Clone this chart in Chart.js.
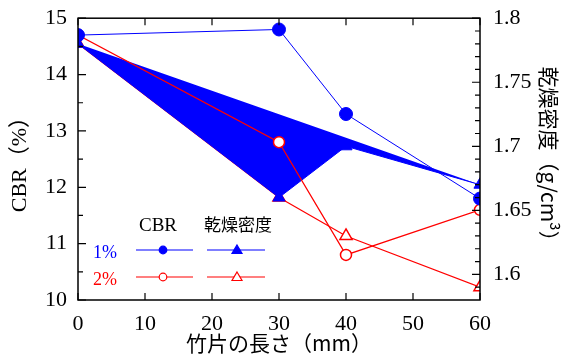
<!DOCTYPE html>
<html>
<head>
<meta charset="utf-8">
<script src="https://cdn.jsdelivr.net/npm/chart.js@4"></script>
<style>
  body { margin: 0; background: #fff; }
  canvas { display: block; }
</style>
</head>
<body>
<canvas id="cbrChart" width="566" height="358"></canvas>
<script>
// bamboo chip length (mm)
const lengths = [0, 30, 40, 60];
// CBR (%)
const cbr1 = [14.7, 14.8, 13.3, 11.8];
const cbr2 = [14.7, 12.8, 10.8, 11.6];
// dry density (g/cm3)
const density1 = [1.78, 1.66, 1.70, 1.67];
const density2 = [1.78, 1.66, 1.63, 1.59];

const xTicks = [0, 10, 20, 30, 40, 50, 60];
const cbrTicks = [10, 11, 12, 13, 14, 15];
const densityTicks = [1.6, 1.65, 1.7, 1.75, 1.8];

const serif = "'Liberation Serif', 'Noto Sans CJK JP', serif";
const cjk = "'Noto Sans CJK JP', sans-serif";

function pts(ys) {
    return lengths.map((x, i) => ({ x: x, y: ys[i] }));
}

function fixTicks(values) {
    return function(scale) {
        scale.ticks = values.map(v => ({ value: v }));
    };
}

// tick marks pointing into the plot + frame
const innerTicks = {
    id: 'innerTicks',
    afterDraw(chart) {
        const ctx = chart.ctx;
        const a = chart.chartArea;
        const sx = chart.scales.x, sl = chart.scales.y, sr = chart.scales.y2;
        ctx.save();
        ctx.strokeStyle = '#000';
        ctx.lineWidth = 1.2;
        ctx.beginPath();
        xTicks.forEach(v => {
            const p = sx.getPixelForValue(v);
            ctx.moveTo(p, a.bottom); ctx.lineTo(p, a.bottom - 7);
            ctx.moveTo(p, a.top); ctx.lineTo(p, a.top + 7);
        });
        for (let v = 10; v <= 15.001; v += 0.5) {
            const p = sl.getPixelForValue(v);
            const len = Math.abs(v - Math.round(v)) < 0.01 ? 8 : 5;
            ctx.moveTo(a.left, p); ctx.lineTo(a.left + len, p);
        }
        for (let i = 159; i <= 180; i++) {
            const v = i / 100;
            const p = sr.getPixelForValue(v);
            const len = i % 5 === 0 ? 8 : 5;
            ctx.moveTo(a.right, p); ctx.lineTo(a.right - len, p);
        }
        ctx.stroke();
        ctx.lineWidth = 1.5;
        ctx.strokeRect(a.left, a.top, a.right - a.left, a.bottom - a.top);
        ctx.restore();
    }
};

// legend drawn inside the plot
const innerLegend = {
    id: 'innerLegend',
    afterDraw(chart) {
        const ctx = chart.ctx;
        ctx.save();
        ctx.textAlign = 'center';
        ctx.textBaseline = 'middle';
        ctx.fillStyle = '#000';
        ctx.font = '19px ' + serif;
        ctx.fillText('CBR', 158, 226);
        ctx.font = '17px ' + cjk;
        ctx.fillText('乾燥密度', 238, 225);

        const rows = [
            { label: '1%', color: 'blue', y: 250, fill: 'blue' },
            { label: '2%', color: 'red', y: 277, fill: '#fff' }
        ];
        rows.forEach(r => {
            ctx.font = '18px ' + serif;
            ctx.fillStyle = r.color;
            ctx.fillText(r.label, 105, r.y + 3);
            ctx.strokeStyle = r.color;
            ctx.lineWidth = 1.2;
            ctx.beginPath();
            ctx.moveTo(136, r.y); ctx.lineTo(193, r.y);
            ctx.moveTo(207, r.y); ctx.lineTo(265, r.y);
            ctx.stroke();
            ctx.fillStyle = r.fill;
            ctx.beginPath();
            ctx.arc(163, r.y, 3.8, 0, Math.PI * 2);
            ctx.fill(); ctx.stroke();
            ctx.beginPath();
            ctx.moveTo(237, r.y - 5);
            ctx.lineTo(242, r.y + 3.5);
            ctx.lineTo(232, r.y + 3.5);
            ctx.closePath();
            ctx.fill(); ctx.stroke();
        });
        ctx.restore();
    }
};

Chart.defaults.color = '#000';

const ctx = document.getElementById('cbrChart').getContext('2d');
new Chart(ctx, {
    type: 'scatter',
    data: {
        datasets: [
            {
                label: 'CBR 1%',
                data: pts(cbr1),
                yAxisID: 'y',
                showLine: true,
                borderColor: 'blue',
                backgroundColor: 'blue',
                borderWidth: 1,
                pointStyle: 'circle',
                pointRadius: 6.5,
                pointBorderWidth: 1,
                order: 1
            },
            {
                label: 'CBR 2%',
                data: pts(cbr2),
                yAxisID: 'y',
                showLine: true,
                borderColor: 'red',
                backgroundColor: '#fff',
                borderWidth: 1.2,
                pointStyle: 'circle',
                pointRadius: 5.5,
                pointBorderWidth: 1.5,
                order: 2
            },
            {
                label: '乾燥密度 2%',
                data: pts(density2),
                yAxisID: 'y2',
                showLine: true,
                borderColor: 'red',
                backgroundColor: '#fff',
                borderWidth: 1.2,
                pointStyle: 'triangle',
                pointRadius: 7,
                pointBorderWidth: 1.5,
                order: 6
            },
            {
                label: '乾燥密度 1%',
                data: pts(density1),
                yAxisID: 'y2',
                showLine: true,
                fill: 'shape',
                borderColor: 'blue',
                backgroundColor: 'blue',
                borderWidth: 1,
                pointStyle: 'triangle',
                pointRadius: 7,
                pointBorderWidth: 1,
                order: 5
            }
        ]
    },
    options: {
        responsive: false,
        animation: false,
        layout: { padding: { top: 18, left: 0, right: 0, bottom: 0 } },
        plugins: {
            legend: { display: false },
            tooltip: { enabled: false }
        },
        scales: {
            x: {
                type: 'linear',
                min: 0,
                max: 60,
                afterBuildTicks: fixTicks(xTicks),
                afterFit(scale) { scale.height = 58; },
                grid: { display: false },
                border: { display: false },
                ticks: {
                    autoSkip: false,
                    maxRotation: 0,
                    padding: 3,
                    font: { family: serif, size: 22 },
                    callback: v => String(v)
                },
                title: {
                    display: true,
                    text: '竹片の長さ（mm）',
                    font: { family: cjk, size: 21 },
                    padding: { top: 2, bottom: 2 }
                }
            },
            y: {
                position: 'left',
                min: 10,
                max: 15,
                afterBuildTicks: fixTicks(cbrTicks),
                afterFit(scale) { scale.width = 78; },
                grid: { display: false },
                border: { display: false },
                ticks: {
                    autoSkip: false,
                    padding: 3,
                    font: { family: serif, size: 22 },
                    callback: v => String(v)
                },
                title: {
                    display: true,
                    text: 'CBR（%）',
                    font: { family: serif, size: 22 },
                    padding: { top: 7, bottom: 2 }
                }
            },
            y2: {
                position: 'right',
                min: 1.58,
                max: 1.8,
                afterBuildTicks: fixTicks(densityTicks),
                afterFit(scale) { scale.width = 86; },
                grid: { display: false },
                border: { display: false },
                ticks: {
                    autoSkip: false,
                    padding: 5,
                    font: { family: serif, size: 22 },
                    callback: v => String(v)
                },
                title: {
                    display: true,
                    text: '乾燥密度（g/cm³）',
                    font: { family: cjk, size: 21 },
                    padding: { top: 4, bottom: 2 }
                }
            }
        }
    },
    plugins: [innerTicks, innerLegend]
});
</script>
</body>
</html>
